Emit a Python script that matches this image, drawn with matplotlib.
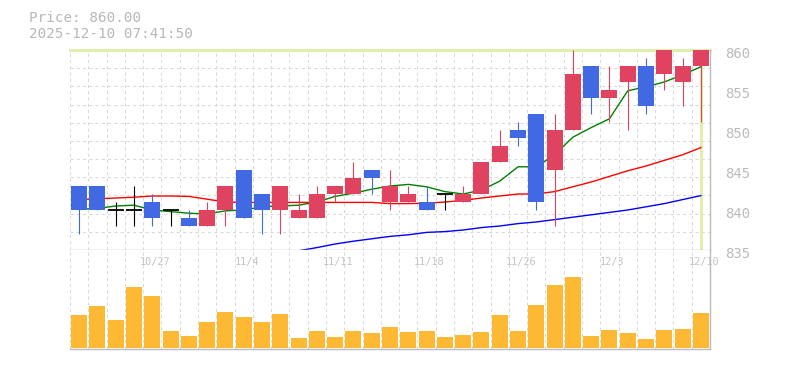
import matplotlib
matplotlib.use("Agg")
import matplotlib.pyplot as plt
import numpy as np
from matplotlib.transforms import ScaledTranslation, blended_transform_factory

# ---------------- data ----------------
dates = ["2025-10-21", "2025-10-22", "2025-10-23", "2025-10-24", "2025-10-27",
         "2025-10-28", "2025-10-29", "2025-10-30", "2025-10-31", "2025-11-04",
         "2025-11-05", "2025-11-06", "2025-11-07", "2025-11-10", "2025-11-11",
         "2025-11-12", "2025-11-13", "2025-11-14", "2025-11-17", "2025-11-18",
         "2025-11-19", "2025-11-20", "2025-11-21", "2025-11-25", "2025-11-26",
         "2025-11-27", "2025-11-28", "2025-12-01", "2025-12-02", "2025-12-03",
         "2025-12-04", "2025-12-05", "2025-12-08", "2025-12-09", "2025-12-10"]
opens = [843, 843, 840, 840, 841, 840, 839, 838, 840, 845, 842, 840, 839, 839, 842,
         842, 845, 841, 841, 841, 842, 841, 842, 846, 850, 852, 845, 850, 858, 854,
         856, 858, 857, 856, 858]
highs = [843, 843, 841, 843, 842, 840, 840, 841, 843, 845, 842, 843, 842, 843, 843,
         846, 845, 845, 843, 843, 842, 843, 846, 850, 851, 852, 852, 860, 858, 858,
         858, 859, 860, 859, 860]
lows = [837, 840, 838, 838, 838, 838, 838, 838, 838, 839, 837, 837, 839, 839, 841,
        842, 842, 840, 841, 840, 840, 841, 842, 846, 848, 840, 838, 850, 852, 851,
        850, 852, 855, 853, 851]
closes = [840, 840, 840, 840, 839, 840, 838, 840, 843, 839, 840, 843, 840, 842, 843,
          844, 844, 843, 842, 840, 842, 842, 846, 848, 849, 841, 850, 857, 854, 855,
          858, 853, 860, 858, 860]
volumes = [32700, 41700, 27700, 60700, 51700, 16700, 11700, 25700, 35700, 30700,
           25700, 33700, 9700, 16700, 10700, 16700, 14700, 20700, 15700, 16700,
           10700, 12700, 15700, 32700, 16700, 42700, 62700, 70700, 11700, 17700,
           14700, 8700, 17700, 18700, 34700]
ma5 = [840.1, 840.2, 840.5, 840.6, 840.0, 839.8, 839.6, 839.5, 839.9, 840.0,
       840.4, 840.5, 840.6, 841.0, 841.7, 842.1, 842.6, 843.0, 843.2, 842.9,
       842.3, 842.0, 842.5, 843.6, 845.4, 845.4, 846.9, 849.1, 850.3, 851.4,
       854.9, 855.4, 856.0, 856.9, 857.9]
ma25 = [841.3, 841.4, 841.5, 841.6, 841.75, 841.75, 841.7, 841.35, 841.0, 840.95,
        840.95, 840.95, 840.95, 840.95, 840.95, 840.95, 840.95, 840.8, 840.8, 840.85,
        841.0, 841.2, 841.5, 841.75, 842.0, 842.0, 842.3, 842.9, 843.5, 844.2,
        844.9, 845.5, 846.2, 846.9, 847.8]
ma75 = [None] * 12 + [834.9, 835.3, 835.75, 836.1, 836.4, 836.7, 836.9, 837.2, 837.3,
                      837.5, 837.8, 838.0, 838.3, 838.5, 838.8, 839.1, 839.4, 839.7,
                      840.0, 840.4, 840.8, 841.3, 841.8]
price_ticks = [835, 840, 845, 850, 855, 860]
date_labels = ["10/27", "11/4", "11/11", "11/18", "11/26", "12/3", "12/10"]
last_price = 860.00
timestamp = "2025-12-10 07:41:50"

# ---------------- style ----------------
RED = "#e0435f"
BLUE = "#4169e1"
VOL = "#fdb933"
LIME = "#def0a4"
GRID = "#d9d9d9"
SPINE = "#bbbbbb"
TXT = "#bbbbbb"
plt.rcParams["font.family"] = ["DejaVu Sans Mono", "DejaVu Sans"]

W, H = 785, 370
fig = plt.figure(figsize=(W / 100, H / 100), dpi=100)


def rect(l, t, r, b):
    return [l / W, 1 - b / H, (r - l) / W, (b - t) / H]


ax = fig.add_axes(rect(70, 50, 710, 250))
axv = fig.add_axes(rect(70, 250, 710, 349))

n = len(dates)
x = np.arange(n)
o = np.array(opens, float)
h = np.array(highs, float)
l = np.array(lows, float)
c = np.array(closes, float)
m75 = np.array([np.nan if v is None else v for v in ma75], float)
bw = 0.875

for a in (ax, axv):
    a.set_xlim(-0.5, n - 0.5)
    a.set_facecolor("white")
    for gx in np.arange(-0.5, n - 0.5, 1.0):
        a.axvline(gx, color=GRID, lw=0.75, ls=(0, (3, 3)), zorder=0)
    a.spines["top"].set_visible(False)
    a.spines["left"].set_visible(False)
    for s in ("bottom", "right"):
        a.spines[s].set_color(SPINE)
        a.spines[s].set_linewidth(1.0)
    a.set_xticks([])

ax.set_ylim(835, 860)
for k in range(1, 11):
    ax.axhline(835 + 25 * k / 11, color=GRID, lw=0.75, ls=(0, (3, 3)), zorder=0)

# last price crosshair
ax.axhline(last_price, color=LIME, lw=2.0, zorder=1, clip_on=False)
ax.axvline(x[-1], color=LIME, lw=2.0, zorder=1)

# moving averages
ax.plot(x, m75, color="#0000ff", lw=1.0, zorder=2)
ax.plot(x, ma25, color="#ff0000", lw=1.0, zorder=2)
ax.plot(x, ma5, color="#008000", lw=1.0, zorder=2)

# candles
up = c > o
dn = c < o
fl = c == o
bot = np.minimum(o, c)
hgt = np.abs(c - o)
ax.vlines(x[up], l[up], h[up], color=RED, lw=0.8, zorder=4)
ax.bar(x[up], hgt[up], bottom=bot[up], width=bw, color=RED, zorder=5, linewidth=0)
ax.vlines(x[dn], l[dn], h[dn], color=BLUE, lw=0.8, zorder=4)
ax.bar(x[dn], hgt[dn], bottom=bot[dn], width=bw, color=BLUE, zorder=5, linewidth=0)
ax.vlines(x[fl], l[fl], h[fl], color="black", lw=0.8, zorder=4)
ax.hlines(c[fl], x[fl] - bw / 2, x[fl] + bw / 2, color="black", lw=1.3, zorder=5)

# y ticks on right
ax.set_yticks(price_ticks)
ax.set_yticklabels([str(v) for v in price_ticks])
ax.tick_params(axis="y", left=False, right=False, labelleft=False, labelright=True,
               pad=7.5, labelsize=10, labelcolor=TXT)
off = ScaledTranslation(0, -2.7 / 100, fig.dpi_scale_trans)
for t in ax.yaxis.get_major_ticks():
    t.label2.set_transform(t.label2.get_transform() + off)

# volume
axv.bar(x, volumes, width=bw, color=VOL, zorder=3, linewidth=0)
axv.set_ylim(-1300, 97700)
axv.set_yticks([])

short = [f"{int(d[5:7])}/{int(d[8:10])}" for d in dates]
tr = blended_transform_factory(axv.transData, axv.transAxes) + \
    ScaledTranslation(3 / 100, 0, fig.dpi_scale_trans)
for lab in date_labels:
    i = short.index(lab)
    axv.text(x[i], 1 - 12.5 / 99, lab, transform=tr, ha="center", va="center",
             fontsize=7.4, color="#c4c4c4", clip_on=False, zorder=6)

# header text
fig.text(29 / W, 1 - 22.5 / H, f"Price: {last_price:.2f}", ha="left", va="baseline",
         fontsize=10.3, color="#b8b8b8")
fig.text(29 / W, 1 - 38 / H, timestamp, ha="left", va="baseline",
         fontsize=10.3, color="#b8b8b8")

fig.savefig("out.png", dpi=100, facecolor="white")
